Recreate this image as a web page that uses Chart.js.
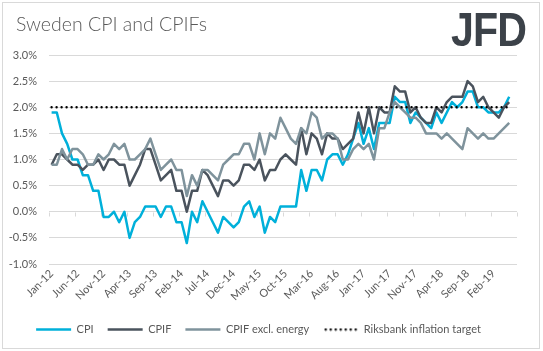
<!DOCTYPE html>
<html>
<head>
<meta charset="utf-8">
<script src="https://cdn.jsdelivr.net/npm/chart.js@4.4.1/dist/chart.umd.min.js"></script>
<style>
  html, body { margin: 0; padding: 0; background: #fff; }
  #wrap { position: relative; width: 543px; height: 351px; overflow: hidden; }
  #frame { position: absolute; left: 2px; top: 2px; width: 538px; height: 347px; border: 1px solid #d9d9d9; box-sizing: border-box; }
  #title { position: absolute; left: 16px; top: 12px; font: 300 19.5px Lato, "Open Sans", sans-serif; color: #595959; white-space: nowrap; }
  #logo { position: absolute; left: 451px; top: 1px; font: bold 49px "Liberation Sans", Arial, sans-serif; color: #3c4249; transform: scaleX(0.84); transform-origin: left top; letter-spacing: -1px; }
  canvas { position: absolute; left: 0; top: 0; }
</style>
</head>
<body>
<div id="wrap">
  <div id="frame"></div>
  <canvas id="chart" width="543" height="351"></canvas>
  <div id="title">Sweden CPI and CPIFs</div>
  <div id="logo">JFD</div>
</div>
<script>
// Sweden CPI and CPIFs, annual % change, monthly Jan-12 .. May-19
// (the category axis runs one empty month further, to Jun-19)

const LABELS = [
  "Jan-12", "Feb-12", "Mar-12", "Apr-12", "May-12", "Jun-12", "Jul-12", "Aug-12", "Sep-12", "Oct-12", "Nov-12", "Dec-12",
  "Jan-13", "Feb-13", "Mar-13", "Apr-13", "May-13", "Jun-13", "Jul-13", "Aug-13", "Sep-13", "Oct-13", "Nov-13", "Dec-13",
  "Jan-14", "Feb-14", "Mar-14", "Apr-14", "May-14", "Jun-14", "Jul-14", "Aug-14", "Sep-14", "Oct-14", "Nov-14", "Dec-14",
  "Jan-15", "Feb-15", "Mar-15", "Apr-15", "May-15", "Jun-15", "Jul-15", "Aug-15", "Sep-15", "Oct-15", "Nov-15", "Dec-15",
  "Jan-16", "Feb-16", "Mar-16", "Apr-16", "May-16", "Jun-16", "Jul-16", "Aug-16", "Sep-16", "Oct-16", "Nov-16", "Dec-16",
  "Jan-17", "Feb-17", "Mar-17", "Apr-17", "May-17", "Jun-17", "Jul-17", "Aug-17", "Sep-17", "Oct-17", "Nov-17", "Dec-17",
  "Jan-18", "Feb-18", "Mar-18", "Apr-18", "May-18", "Jun-18", "Jul-18", "Aug-18", "Sep-18", "Oct-18", "Nov-18", "Dec-18",
  "Jan-19", "Feb-19", "Mar-19", "Apr-19", "May-19", "Jun-19",
];

const CPI = [
  1.9, 1.9, 1.5, 1.3, 1.0, 1.0, 0.7, 0.7, 0.4, 0.4, -0.1, -0.1,
  0.0, -0.2, 0.0, -0.5, -0.2, -0.1, 0.1, 0.1, 0.1, -0.1, 0.1, 0.1,
  -0.2, -0.2, -0.6, 0.0, -0.2, 0.2, 0.0, -0.2, -0.4, -0.1, -0.2, -0.3,
  -0.2, 0.1, 0.2, -0.1, 0.1, -0.4, -0.1, -0.2, 0.1, 0.1, 0.1, 0.1,
  0.8, 0.4, 0.8, 0.8, 0.6, 1.0, 1.1, 1.1, 0.9, 1.1, 1.4, 1.7,
  1.3, 1.6, 1.2, 1.7, 1.7, 1.7, 2.2, 2.1, 2.1, 1.7, 1.9, 1.8,
  1.7, 1.6, 1.9, 1.7, 1.9, 2.1, 2.0, 2.1, 2.3, 2.3, 2.0, 2.0,
  1.9, 1.9, 1.9, 2.0, 2.2,
];

const CPIF = [
  0.9, 1.1, 1.1, 1.0, 0.9, 0.9, 0.8, 0.9, 0.9, 1.0, 0.8, 1.0,
  1.0, 0.9, 0.9, 0.5, 0.7, 0.9, 1.2, 1.2, 0.9, 0.6, 0.7, 0.8,
  0.4, 0.4, 0.0, 0.4, 0.4, 0.8, 0.7, 0.5, 0.3, 0.6, 0.6, 0.5,
  0.6, 0.9, 0.9, 0.8, 1.0, 0.6, 0.8, 0.8, 1.0, 1.1, 1.0, 0.9,
  1.6, 1.1, 1.5, 1.4, 1.1, 1.5, 1.4, 1.4, 1.2, 1.3, 1.4, 1.9,
  1.5, 2.0, 1.5, 2.0, 1.9, 1.9, 2.4, 2.3, 2.3, 1.9, 2.0, 1.8,
  1.7, 1.7, 2.0, 1.9, 2.1, 2.2, 2.2, 2.2, 2.5, 2.4, 2.1, 2.2,
  2.0, 1.9, 1.8, 2.0, 2.1,
];

const CPIF_EX_ENERGY = [
  0.9, 0.9, 1.2, 1.0, 1.2, 1.2, 1.1, 0.9, 0.9, 1.1, 1.0, 1.1,
  1.3, 1.2, 1.3, 1.0, 1.0, 1.1, 1.2, 1.4, 1.1, 0.8, 0.9, 1.0,
  0.8, 0.8, 0.3, 0.7, 0.5, 0.8, 0.8, 0.7, 0.6, 0.9, 1.0, 1.1,
  1.1, 1.3, 1.3, 1.0, 1.5, 1.1, 1.5, 1.4, 1.8, 1.6, 1.4, 1.3,
  1.6, 1.5, 1.9, 1.8, 1.4, 1.5, 1.5, 1.4, 1.0, 1.0, 1.2, 1.3,
  1.2, 1.3, 1.0, 1.6, 1.6, 1.9, 2.1, 2.0, 1.9, 1.8, 1.8, 1.7,
  1.5, 1.5, 1.5, 1.4, 1.5, 1.4, 1.3, 1.2, 1.6, 1.5, 1.4, 1.5,
  1.4, 1.4, 1.5, 1.6, 1.7,
];

// Riksbank target: flat 2% from the first to the last observed month
const TARGET = [
  { x: "Jan-12", y: 2.0 },
  { x: "May-19", y: 2.0 },
];

const Y_TICKS = [-1.0, -0.5, 0.0, 0.5, 1.0, 1.5, 2.0, 2.5, 3.0];
const LABEL_EVERY = 5;

const GRID = "#d9d9d9";
const TEXT = "#595959";
const FONT = "Lato, 'Open Sans', sans-serif";
const SWATCH_W = 35;

// small tick marks hanging under the 0% line, at every 5th category boundary
const zeroLineTicks = {
  id: "zeroLineTicks",
  beforeDatasetsDraw(chart) {
    const { ctx, scales: { x, y } } = chart;
    const y0 = Math.round(y.getPixelForValue(0)) + 0.5;
    const step = (x.right - x.left) / LABELS.length;
    ctx.save();
    ctx.strokeStyle = GRID;
    ctx.lineWidth = 1;
    for (let i = 0; i <= LABELS.length; i += LABEL_EVERY) {
      const px = Math.round(x.left + i * step) + 0.5;
      ctx.beginPath();
      ctx.moveTo(px, y0);
      ctx.lineTo(px, y0 + 4);
      ctx.stroke();
    }
    ctx.restore();
  },
};

// legend swatch for the dotted target line (the 'line' point style closes its
// path, which fills in the gaps of a dotted stroke)
function dottedSwatch() {
  const c = document.createElement("canvas");
  c.width = SWATCH_W;
  c.height = 4;
  const g = c.getContext("2d");
  g.fillStyle = "#000";
  for (let x = 2.5; x < SWATCH_W; x += 5) {
    g.beginPath();
    g.arc(x, 2, 1.2, 0, Math.PI * 2);
    g.fill();
  }
  return c;
}

const lineStyle = (color) => ({
  borderColor: color,
  backgroundColor: color,
  borderWidth: 2.5,
  pointRadius: 0,
  tension: 0,
  borderJoinStyle: "round",
  fill: false,
});

new Chart(document.getElementById("chart").getContext("2d"), {
  type: "line",
  data: {
    labels: LABELS,
    datasets: [
      { label: "CPI", data: CPI, order: 4, ...lineStyle("#00b0da") },
      { label: "CPIF", data: CPIF, order: 3, ...lineStyle("#4a535d") },
      { label: "CPIF excl. energy", data: CPIF_EX_ENERGY, order: 2, ...lineStyle("#7f939c") },
      {
        label: "Riksbank inflation target",
        data: TARGET,
        order: 1,
        borderColor: "#000",
        backgroundColor: "#000",
        borderWidth: 2.4,
        borderDash: [0, 5],
        borderCapStyle: "round",
        pointRadius: 0,
        fill: false,
      },
    ],
  },
  options: {
    responsive: false,
    animation: false,
    layout: { padding: { left: 0, right: 26, top: 55, bottom: 6 } },
    scales: {
      x: {
        type: "category",
        offset: true,
        grid: { display: false, drawTicks: false },
        border: { display: false },
        ticks: {
          autoSkip: false,
          maxRotation: 45,
          minRotation: 45,
          padding: 3,
          color: TEXT,
          font: { family: FONT, size: 11 },
          callback(value, index) {
            return index % LABEL_EVERY === 0 ? this.getLabelForValue(value) : null;
          },
        },
        afterFit(scale) {
          scale.height = 46;
        },
      },
      y: {
        min: Y_TICKS[0],
        max: Y_TICKS[Y_TICKS.length - 1],
        afterBuildTicks(scale) {
          scale.ticks = Y_TICKS.map((v) => ({ value: v }));
        },
        grid: { color: GRID, drawTicks: false },
        border: { display: false },
        ticks: {
          padding: 12,
          color: TEXT,
          font: { family: FONT, size: 11 },
          callback: (v) => `${Number(v).toFixed(1)}%`,
        },
        afterFit(scale) {
          scale.width = 49;
        },
      },
    },
    plugins: {
      legend: {
        position: "bottom",
        labels: {
          usePointStyle: true,
          pointStyle: "line",
          pointStyleWidth: SWATCH_W,
          padding: 14,
          color: TEXT,
          font: { family: FONT, size: 11 },
          sort: (a, b) => a.datasetIndex - b.datasetIndex,
          generateLabels(chart) {
            const items = Chart.defaults.plugins.legend.labels.generateLabels(chart);
            items.forEach((item) => {
              if (item.datasetIndex === 3) item.pointStyle = dottedSwatch();
            });
            return items;
          },
        },
      },
      tooltip: { enabled: false },
    },
  },
  plugins: [zeroLineTicks],
});
</script>
</body>
</html>
